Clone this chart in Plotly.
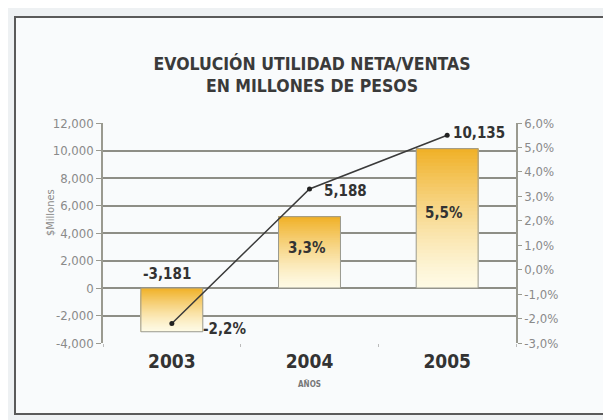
import plotly.graph_objects as go

# ---- data ----
years = ["2003", "2004", "2005"]
utilidad = [-3181, 5188, 10135]          # $ millones
ratio_pct = [-2.2, 3.3, 5.5]             # utilidad neta / ventas (%)
left_ticks = [-4000, -2000, 0, 2000, 4000, 6000, 8000, 10000, 12000]
right_ticks = [-3, -2, -1, 0, 1, 2, 3, 4, 5, 6]

TITLE = "EVOLUCIÓN UTILIDAD NETA/VENTAS<br>EN MILLONES DE PESOS"
FONT = "DejaVu Sans Condensed, Open Sans, sans-serif"
GOLD = (240, 176, 38)
CREAM = (254, 250, 228)

# page offset (browser body margin) compensation
OFF = 8
PL, PR, PT, PB = 103 - OFF, 516 - OFF, 123 - OFF, 343 - OFF   # plot box in figure px
W, H = 611, 420
PW, PH = PR - PL, PB - PT


def mix(t):
    t = max(0.0, min(1.0, t))
    c = [round(CREAM[i] + (GOLD[i] - CREAM[i]) * t) for i in range(3)]
    return f"rgb({c[0]},{c[1]},{c[2]})"


fig = go.Figure()

# gradient-filled bars: overlaid segments, each from a fraction of the value to the value
N = 40
for k in range(N):
    bases, heights, cols = [], [], []
    for v in utilidad:
        bases.append(v * k / N)
        heights.append(v * (1 - k / N))
        frac = (k + 0.5) / N  # fraction from zero line
        t = frac if v > 0 else 1 - frac  # position from bottom of the bar (screen)
        cols.append(mix(t ** 1.3))
    fig.add_trace(go.Bar(x=years, y=heights, base=bases, width=0.45,
                         marker=dict(color=cols, line=dict(width=0)),
                         hoverinfo="skip", showlegend=False))

# bar outline
fig.add_trace(go.Bar(x=years, y=utilidad, width=0.45,
                     marker=dict(color="rgba(0,0,0,0)", line=dict(color="#9a9a90", width=1)),
                     showlegend=False, name="Utilidad"))

# ratio line on secondary axis
fig.add_trace(go.Scatter(x=years, y=ratio_pct, yaxis="y2", mode="lines+markers",
                         line=dict(color="#3a3a3a", width=1.5),
                         marker=dict(color="#222", size=5), showlegend=False))

lab_font = dict(family=FONT, size=15, color="#333333", weight="bold")
ann = []
fmt_num = lambda v: f"{v:,}"
fmt_pct = lambda p: f"{p:.1f}%".replace(".", ",")

# category positions (index) for annotations
i03, i04, i05 = 0, 1, 2
ann.append(dict(x=i03, y=0, text=fmt_num(utilidad[0]), showarrow=False,
                yanchor="bottom", xshift=-5, yshift=3, font=lab_font))
ann.append(dict(x=i03, y=ratio_pct[0], yref="y2", text=fmt_pct(ratio_pct[0]),
                showarrow=False, xanchor="left", xshift=29, yshift=-6, font=lab_font))
ann.append(dict(x=i04, y=ratio_pct[1], yref="y2", text=fmt_num(utilidad[1]),
                showarrow=False, xanchor="left", xshift=12, yshift=-2, font=lab_font))
ann.append(dict(x=i04, y=utilidad[1] / 2, text=fmt_pct(ratio_pct[1]),
                showarrow=False, yshift=4, xshift=-3, font=lab_font))
ann.append(dict(x=i05, y=ratio_pct[2], yref="y2", text=fmt_num(utilidad[2]),
                showarrow=False, xanchor="left", xshift=4, yshift=2, font=lab_font))
ann.append(dict(x=i05, y=utilidad[2] / 2, text=fmt_pct(ratio_pct[2]),
                showarrow=False, yshift=5, xshift=-3, font=lab_font))
# rotated y-axis title
ann.append(dict(xref="paper", yref="paper", x=-53 / PW, y=(343 - 213) / PH,
                xanchor="center", yanchor="middle",
                text="$Millones", textangle=-90, showarrow=False,
                font=dict(family=FONT, size=11, color="#8a8a8a")))

fig.update_layout(
    width=W, height=H,
    margin=dict(l=PL, r=W - PR, t=PT, b=H - PB),
    paper_bgcolor="#eef1f3",
    plot_bgcolor="#fcf9e6",
    barmode="overlay",
    title=dict(text=TITLE, x=(312 - OFF) / W, xanchor="center",
               y=1 - 61.5 / H, yanchor="middle",
               font=dict(family=FONT, size=17.5, color="#3a3a3a", weight="bold")),
    font=dict(family=FONT),
    annotations=ann,
    shapes=[dict(type="rect", xref="paper", yref="paper",
                 x0=(15 - OFF - PL) / PW, x1=(640 - PL) / PW,
                 y0=-(414 - OFF - PB) / PH, y1=(PB - (17 - OFF)) / PH,
                 line=dict(color="#5a5a5a", width=2), fillcolor="#f9fbfc", layer="below")],
    xaxis=dict(type="category", range=[-0.5, 2.5], showgrid=False, showline=False,
               ticks="outside", tickson="boundaries", ticklen=3, tickcolor="#bbbbbb",
               tickfont=dict(family=FONT, size=19, color="#333333", weight="bold"),
               ticklabelstandoff=5,
               title=dict(text="AÑOS", standoff=10,
                          font=dict(family=FONT, size=8, color="#777777", weight="bold"))),
    yaxis=dict(range=[-4000, 12000], tickvals=left_ticks,
               ticktext=[fmt_num(v) for v in left_ticks],
               showgrid=True, gridcolor="#8e8e86", gridwidth=2,
               zeroline=True, zerolinecolor="#8e8e86", zerolinewidth=2,
               showline=True, linecolor="#9a9a90", linewidth=1.5,
               ticks="outside", ticklen=5, tickcolor="#9a9a90",
               tickfont=dict(family=FONT, size=13, color="#8a8a8a")),
    yaxis2=dict(range=[-3, 6], overlaying="y", side="right", tickvals=right_ticks,
                ticktext=[fmt_pct(v) for v in right_ticks],
                showgrid=False, zeroline=False, showline=True,
                linecolor="#9a9a90", linewidth=1.5,
                ticks="outside", ticklen=4, tickcolor="#9a9a90",
                ticklabelstandoff=0,
                tickfont=dict(family=FONT, size=13, color="#8a8a8a")),
)

fig.write_html("out.html")
